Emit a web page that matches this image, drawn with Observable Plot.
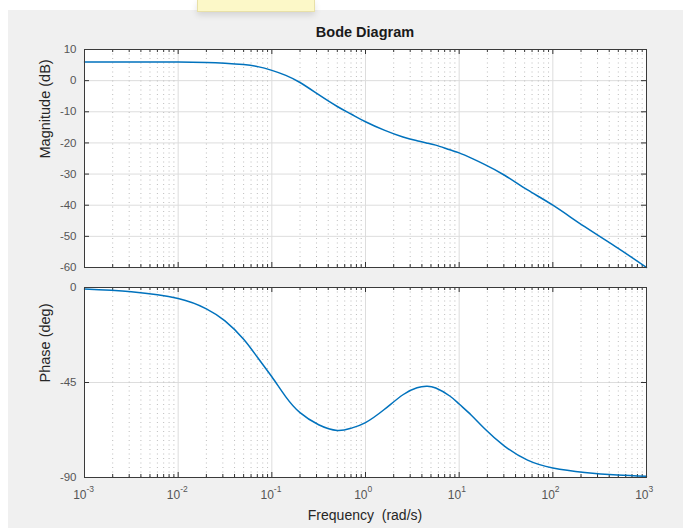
<!DOCTYPE html>
<html><head><meta charset="utf-8">
<script src="https://cdn.jsdelivr.net/npm/d3@7"></script>
<script src="https://cdn.jsdelivr.net/npm/@observablehq/plot@0.6"></script>
<style>
body{margin:0;background:#fff;width:683px;height:528px;overflow:hidden;position:relative;font-family:"Liberation Sans",Arial,sans-serif;}
#fig{position:absolute;left:8px;top:10px;width:675px;height:518px;background:#f0f0f0;}
#tip{position:absolute;left:197px;top:0;width:116px;height:11px;background:#fcf8c8;border:1px solid #e8e0a8;border-top:none;box-shadow:0 3px 6px rgba(0,0,0,0.12);}
.panel{position:absolute;left:0;}
#title{position:absolute;left:84px;width:562px;top:24px;text-align:center;font-weight:bold;font-size:14.5px;color:#1a1a1a;}
#xlabel{position:absolute;left:84px;width:562px;top:507px;text-align:center;font-size:14px;color:#262626;white-space:pre;}
</style></head>
<body>
<div id="fig"></div>
<div id="tip"></div>
<div id="title">Bode Diagram</div>
<div id="magPanel" class="panel" style="top:39px"></div>
<div id="phasePanel" class="panel" style="top:277px"></div>
<div id="xlabel">Frequency  (rad/s)</div>
<script>
// Frequencies (rad/s)
const freq = [0.001, 0.00316, 0.01, 0.02, 0.0316, 0.05, 0.0708, 0.1, 0.141, 0.2, 0.316, 0.5, 0.708, 1, 1.585, 2.512, 3.548, 4.467, 5.623, 7.943, 10, 13.49, 18.62, 30.2, 53.7, 100, 218.8, 489.8, 1000];
// Magnitude (dB)
const magnitude = [6.0, 6.0, 5.95, 5.85, 5.6, 5.15, 4.5, 3.3, 1.7, -0.6, -4.5, -8.3, -10.8, -13.2, -15.9, -18.1, -19.3, -20.0, -20.7, -22.2, -23.2, -24.9, -26.9, -30.3, -35.1, -40.0, -46.9, -53.7, -60.0];
// Phase (deg)
const phase = [-0.7, -2.0, -5.2, -10.1, -15.8, -24.5, -33.3, -42.3, -51.8, -59.3, -65.0, -67.7, -66.6, -64.0, -57.8, -50.8, -47.5, -46.8, -47.6, -51.4, -55.2, -60.5, -66.8, -75.0, -81.8, -85.5, -87.6, -88.8, -89.4];

const decades = [0.001, 0.01, 0.1, 1, 10, 100, 1000];
const decadeExponents = ["-3", "-2", "-1", "0", "1", "2", "3"];
const minorFreq = [];
for (const d of decades.slice(0, -1)) for (let k = 2; k <= 9; k++) minorFreq.push(+(d * k).toPrecision(3));
const magTicks = [10, 0, -10, -20, -30, -40, -50, -60];
const magGrid = [0, -10, -20, -30, -40, -50];
const phaseTicks = [0, -45, -90];
const phaseGrid = [-45];

const rows = freq.map((f, i) => ({f, m: magnitude[i], p: phase[i]}));
const W = 683, ML = 84, MR = 37;
const PW = W - ML - MR;
const font = '"Liberation Sans", Arial, sans-serif';

function framing(PH, yTicks) {
  return [
    Plot.ruleX(minorFreq, {stroke: "#bcbcbc", strokeDasharray: "1,3.5", strokeWidth: 1}),
    Plot.ruleX(decades.slice(1, -1), {stroke: "#dddddd", strokeWidth: 1}),
    Plot.ruleX(decades, {stroke: "#333", insetTop: PH - 5}),
    Plot.ruleX(decades, {stroke: "#333", insetBottom: PH - 5}),
    Plot.ruleX(minorFreq, {stroke: "#333", insetTop: PH - 3}),
    Plot.ruleX(minorFreq, {stroke: "#333", insetBottom: PH - 3}),
    Plot.ruleY(yTicks, {stroke: "#333", insetRight: PW - 5}),
    Plot.ruleY(yTicks, {stroke: "#333", insetLeft: PW - 5})
  ];
}

const PH1 = 218;
const magChart = Plot.plot({
  width: W, height: 10 + PH1 + 12, marginLeft: ML, marginRight: MR, marginTop: 10, marginBottom: 12,
  style: {background: "transparent", fontFamily: font, fontSize: "11px", overflow: "visible"},
  x: {type: "log", domain: [1e-3, 1e3], axis: null},
  y: {domain: [-60, 10], axis: null},
  marks: [
    Plot.frame({fill: "white"}),
    Plot.ruleY(magGrid, {stroke: "#dddddd", strokeWidth: 1}),
    ...framing(PH1, magTicks),
    Plot.line(rows, {x: "f", y: "m", stroke: "#0072bd", strokeWidth: 1.5, curve: "natural"}),
    Plot.frame({stroke: "#3a3a3a"}),
    Plot.axisY(magTicks, {tickSize: 0, tickPadding: 8, fill: "#555", fontSize: 11.5, label: null, tickFormat: d => String(d)}),
    Plot.text([0], {frameAnchor: "left", text: () => "Magnitude (dB)", rotate: -90, dx: -39, fill: "#262626", fontSize: 14.5})
  ]
});
document.getElementById("magPanel").append(magChart);

const PH2 = 190;
const phaseChart = Plot.plot({
  width: W, height: 10 + PH2 + 50, marginLeft: ML, marginRight: MR, marginTop: 10, marginBottom: 50,
  style: {background: "transparent", fontFamily: font, fontSize: "11px", overflow: "visible"},
  x: {type: "log", domain: [1e-3, 1e3], axis: null},
  y: {domain: [-90, 0], axis: null},
  marks: [
    Plot.frame({fill: "white"}),
    Plot.ruleY(phaseGrid, {stroke: "#dddddd", strokeWidth: 1}),
    ...framing(PH2, phaseTicks),
    Plot.line(rows, {x: "f", y: "p", stroke: "#0072bd", strokeWidth: 1.5, curve: "natural"}),
    Plot.frame({stroke: "#3a3a3a"}),
    Plot.axisY(phaseTicks, {tickSize: 0, tickPadding: 8, fill: "#555", fontSize: 11.5, label: null, tickFormat: d => String(d)}),
    Plot.text(decades, {x: d => d, frameAnchor: "bottom", dy: 21, dx: 2, textAnchor: "end", text: () => "10", fill: "#555", fontSize: 12}),
    Plot.text(decades, {x: d => d, frameAnchor: "bottom", dy: 14, dx: 2, textAnchor: "start", text: (d, i) => decadeExponents[i], fill: "#555", fontSize: 8.5}),
    Plot.text([0], {frameAnchor: "left", text: () => "Phase (deg)", rotate: -90, dx: -39, fill: "#262626", fontSize: 14.5})
  ]
});
document.getElementById("phasePanel").append(phaseChart);
</script>
</body></html>
